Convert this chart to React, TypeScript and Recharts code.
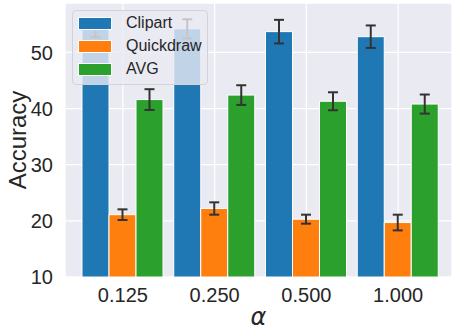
import {
  BarChart,
  Bar,
  XAxis,
  YAxis,
  CartesianGrid,
  ErrorBar,
  Legend,
  Label,
} from "recharts";

const alphas = ["0.125", "0.250", "0.500", "1.000"];
const clipart = [54.3, 54.2, 53.7, 52.8];
const clipartErr = [1.6, 1.7, 2.1, 2.0];
const quickdraw = [21.1, 22.2, 20.3, 19.7];
const quickdrawErr = [0.95, 1.1, 0.8, 1.4];
const avg = [41.6, 42.4, 41.3, 40.8];
const avgErr = [1.85, 1.75, 1.6, 1.7];
const yTicks = [10, 20, 30, 40, 50];

const series = [
  { key: "clipart", name: "Clipart", color: "#1f77b4" },
  { key: "quickdraw", name: "Quickdraw", color: "#ff7f0e" },
  { key: "avg", name: "AVG", color: "#2ca02c" },
];

const TEXT = "#262626";
const FONT = "'Liberation Sans', Arial, sans-serif";

function LegendBox() {
  return (
    <div
      style={{
        position: "relative",
        width: 136,
        height: 75,
        boxSizing: "border-box",
        background: "rgba(234,234,242,0.8)",
        border: "1px solid #d2d2d8",
        borderRadius: 4,
        fontFamily: FONT,
        fontSize: 16,
        color: TEXT,
      }}
    >
      {series.map((s, i) => (
        <div key={s.key}>
          <div
            style={{
              position: "absolute",
              left: 6,
              top: 7 + i * 23,
              width: 32,
              height: 11,
              background: s.color,
              boxShadow: "0 0 0 1px #fff",
            }}
          />
          <div
            style={{
              position: "absolute",
              left: 53,
              top: 3 + i * 23,
              lineHeight: "18px",
            }}
          >
            {s.name}
          </div>
        </div>
      ))}
    </div>
  );
}

export default function App() {
  const data = alphas.map((a, i) => ({
    alpha: a,
    clipart: clipart[i],
    clipartErr: clipartErr[i],
    quickdraw: quickdraw[i],
    quickdrawErr: quickdrawErr[i],
    avg: avg[i],
    avgErr: avgErr[i],
  }));

  return (
    <div style={{ position: "absolute", left: 0, top: 0, background: "#fff" }}>
      <BarChart
        width={452}
        height={332}
        data={data}
        margin={{ top: 3, right: 0, bottom: 0, left: 0 }}
        barCategoryGap={5}
        barGap={0}
      >
        <CartesianGrid fill="#eaeaf2" stroke="#ffffff" strokeWidth={1.3} />
        <XAxis
          dataKey="alpha"
          height={55}
          padding={{ left: 12, right: 8 }}
          axisLine={false}
          tickLine={false}
          tickSize={0}
          tickMargin={11}
          tick={{ fill: TEXT, fontSize: 20, fontFamily: FONT }}
        >
          <Label
            value="α"
            position="insideBottom"
            offset={7}
            style={{
              fill: TEXT,
              fontSize: 24,
              fontStyle: "italic",
              fontFamily: "'DejaVu Sans', sans-serif",
            }}
          />
        </XAxis>
        <YAxis
          width={65}
          domain={[10, 58.8]}
          ticks={yTicks}
          axisLine={false}
          tickLine={false}
          tickSize={0}
          tickMargin={12}
          tick={{ fill: TEXT, fontSize: 20, fontFamily: FONT }}
        >
          <Label
            content={() => (
              <text
                x={17}
                y={140}
                transform="rotate(-90 17 140)"
                textAnchor="middle"
                dominantBaseline="central"
                fill={TEXT}
                fontSize={24}
                fontFamily={FONT}
              >
                Accuracy
              </text>
            )}
          />
        </YAxis>
        <Legend
          layout="vertical"
          align="center"
          verticalAlign="middle"
          wrapperStyle={{ left: 72, top: 10, width: 136, height: 75 }}
          content={() => <LegendBox />}
        />
        {series.map((s) => (
          <Bar
            key={s.key}
            dataKey={s.key}
            name={s.name}
            fill={s.color}
            stroke="#ffffff"
            strokeWidth={1}
            isAnimationActive={false}
          >
            <ErrorBar
              dataKey={s.key + "Err"}
              width={5}
              stroke="#333333"
              strokeWidth={2}
            />
          </Bar>
        ))}
      </BarChart>
    </div>
  );
}
